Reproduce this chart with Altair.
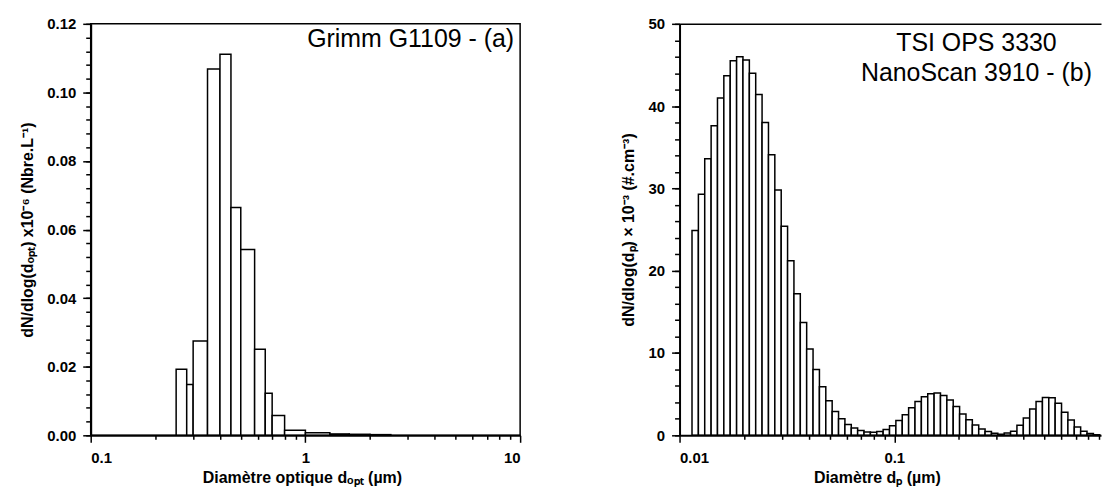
import altair as alt
import pandas as pd

FONT = "Liberation Sans"

# ---------------- Panel (a): Grimm G1109 ----------------
grimm_edges = [0.25, 0.28, 0.30, 0.35, 0.40, 0.45, 0.50, 0.58, 0.65, 0.70,
               0.80, 1.0, 1.3, 1.6, 2.0, 2.5]
grimm_values = [0.0193, 0.0148, 0.0275, 0.1068, 0.1111, 0.0664, 0.0542, 0.0251,
                0.0123, 0.0058, 0.0015, 0.00075, 0.0004, 0.0003, 0.0002]

# ---------------- Panel (b): TSI OPS 3330 / NanoScan 3910 ----------------
tsi_edges = [0.01143, 0.01224, 0.01310, 0.01403, 0.01502, 0.01608, 0.01722, 0.01844, 0.01974, 0.02114,
             0.02263, 0.02423, 0.02595, 0.02778, 0.02975, 0.03185, 0.03410, 0.03651, 0.03909, 0.04186,
             0.04482, 0.04799, 0.05138, 0.05502, 0.05891, 0.06307, 0.06753, 0.07231, 0.07742, 0.08290,
             0.08876, 0.09503, 0.10175, 0.10895, 0.11665, 0.12490, 0.13373, 0.14319, 0.15331, 0.16415,
             0.17576, 0.18819, 0.20150, 0.21574, 0.23100, 0.24734, 0.26483, 0.28355, 0.30360, 0.32507,
             0.34806, 0.37267, 0.39902, 0.42724, 0.45745, 0.48980, 0.52443, 0.56151, 0.60122, 0.64373,
             0.68925, 0.73799, 0.79017, 0.84605, 0.90587]
tsi_values = [24.9, 29.3, 33.6, 37.6, 41.0, 43.7, 45.5, 46.0, 45.6, 44.0,
              41.4, 38.0, 34.1, 29.8, 25.4, 21.2, 17.2, 13.7, 10.5, 8.0,
              5.9, 4.2, 2.9, 2.0, 1.3, 0.9, 0.57, 0.4, 0.38, 0.45,
              0.7, 1.15, 1.8, 2.5, 3.35, 4.1, 4.7, 5.05, 5.15, 4.85,
              4.3, 3.5, 2.6, 1.9, 1.25, 0.77, 0.45, 0.25, 0.13, 0.27,
              0.5, 1.22, 2.1, 3.2, 4.1, 4.6, 4.55, 3.9, 2.8, 1.85,
              1.0, 0.5, 0.22, 0.07]

# ---------------- Axis ticks ----------------
grimm_xticks = [0.1, 1, 10]
grimm_xminor = [0.2, 0.3, 0.4, 0.5, 0.6, 0.7, 0.8, 0.9, 2, 3, 4, 5, 6, 7, 8, 9]
grimm_yticks = [0.0, 0.02, 0.04, 0.06, 0.08, 0.10, 0.12]
grimm_yminor = [round(i * 0.004, 3) for i in range(31)]

tsi_xticks = [0.01, 0.1]
tsi_xminor = [0.02, 0.03, 0.04, 0.05, 0.06, 0.07, 0.08, 0.09,
              0.2, 0.3, 0.4, 0.5, 0.6, 0.7, 0.8, 0.9]
tsi_yticks = [0, 10, 20, 30, 40, 50]
tsi_yminor = list(range(0, 51, 2))


def make_df(edges, values):
    return pd.DataFrame({"d_lo": edges[:-1], "d_hi": edges[1:], "value": values})


def panel(df, xdomain, xticks, xminor, ydomain, yticks, yminor, yfmt,
          xtitle, ytitle, title, ytitle_pad, width, xtitle_x, top_line=False):
    xscale = alt.Scale(type="log", domain=xdomain, nice=False)
    yscale = alt.Scale(domain=ydomain, nice=False, zero=True)
    bars = alt.Chart(df).mark_rect(fill="white", stroke="black", strokeWidth=1.5).encode(
        x=alt.X("d_lo:Q", scale=xscale,
                axis=alt.Axis(values=xticks, format="~g", title=xtitle, orient="bottom",
                              tickSize=7, labelPadding=8, titlePadding=4, titleX=xtitle_x,
                              zindex=1)),
        x2="d_hi:Q",
        y=alt.Y("value:Q", scale=yscale,
                axis=alt.Axis(values=yticks, format=yfmt, title=ytitle, orient="left",
                              tickSize=8, labelPadding=7, titlePadding=ytitle_pad, zindex=1)),
        y2=alt.datum(0),
    )
    minor = alt.Chart(df).mark_rect(opacity=0).encode(
        x=alt.X("d_lo:Q", scale=xscale,
                axis=alt.Axis(values=xminor, labels=False, domain=False, tickSize=4,
                              title="", orient="bottom", zindex=1)),
        x2="d_hi:Q",
        y=alt.Y("value:Q", scale=yscale,
                axis=alt.Axis(values=yminor, labels=False, domain=False, tickSize=5,
                              title="", orient="left", zindex=1)),
        y2=alt.datum(0),
    )
    layers = [bars, minor]
    if top_line:
        top = alt.Chart(df).mark_rect(opacity=0).encode(
            x=alt.X("d_lo:Q", scale=xscale,
                    axis=alt.Axis(labels=False, ticks=False, domain=True, domainWidth=1.5,
                                  title="", orient="top", zindex=1)),
            x2="d_hi:Q",
        )
        layers.append(top)
    ch = alt.layer(*layers).resolve_axis(x="independent", y="independent").properties(
        width=width, height=413, title=title)
    if top_line:
        ch = ch.properties(view=alt.ViewBackground(stroke="transparent"))
    return ch


title_a = alt.TitleParams(text="Grimm G1109 - (a)", anchor="end", frame="group", align="right",
                          baseline="alphabetic", offset=-55, dx=-6, fontSize=25,
                          fontWeight="normal", font=FONT, color="black")
title_b = alt.TitleParams(text=["TSI OPS 3330", "NanoScan 3910 - (b)"], anchor="end", frame="group",
                          align="center", baseline="alphabetic", offset=-89, dx=-125, fontSize=25,
                          lineHeight=30, fontWeight="normal", font=FONT, color="black")

left = panel(make_df(grimm_edges, grimm_values), [0.1, 10], grimm_xticks, grimm_xminor,
             [0, 0.12], grimm_yticks, grimm_yminor, ".2f",
             "Diamètre optique dₒₚₜ (µm)", "dN/dlog(dₒₚₜ) x10⁻⁶ (Nbre.L⁻¹)", title_a, 11, 431, 212)
right = panel(make_df(tsi_edges, tsi_values), [0.01, 0.918], tsi_xticks, tsi_xminor,
              [0, 50], tsi_yticks, tsi_yminor, "d",
              "Diamètre dₚ (µm)", "dN/dlog(dₚ) × 10⁻³ (#.cm⁻³)", title_b, 12, 423, 198,
              top_line=True)

chart = alt.hconcat(left, right, spacing=97).properties(
    padding={"left": 11, "top": 7, "right": 0, "bottom": 0}
).configure_axis(
    labelFont=FONT, labelFontSize=15, labelFontWeight="bold", labelColor="black",
    titleFont=FONT, titleFontSize=16, titleFontWeight="bold", titleColor="black",
    domainColor="black", domainWidth=2, tickColor="black", tickWidth=1.5, grid=False,
).configure_view(stroke="black", strokeWidth=1.5)

chart.save("out.html", embed_options={"renderer": "svg", "actions": False})
